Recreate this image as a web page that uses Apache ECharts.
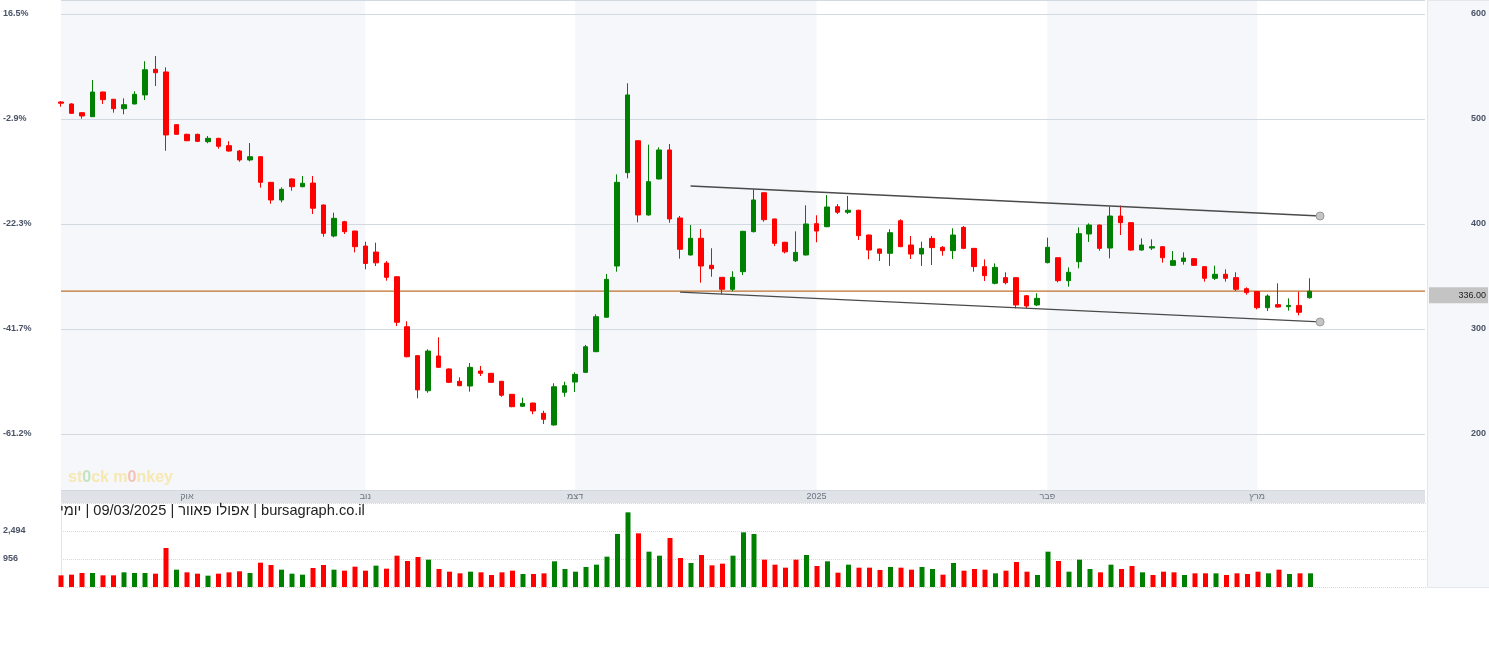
<!DOCTYPE html>
<html><head><meta charset="utf-8">
<script src="https://cdn.jsdelivr.net/npm/echarts@6/dist/echarts.min.js"></script>
<style>html,body{margin:0;padding:0;background:#fff}#c{width:1489px;height:648px}</style>
</head><body><div id="c"></div>
<script>
// ---- data (daily candles) ----
const opens = [516.2,514.3,506,502.2,525.7,518.8,509.8,514.3,522.9,547.3,
 544.8,494.6,485.4,485.4,478.4,481.6,474.6,469.5,461,464.1,
 439.7,422.9,442.9,435.5,439,418.1,388.6,402.2,393.3,379,
 373.3,362.8,349.8,302.2,274.6,241.2,274.3,261.9,250.2,245.7,
 260,257.8,250.2,237.8,226.4,229.5,219.7,208.6,239.7,249.5,
 258.7,278.4,311.2,360,448.9,479.3,408.6,442.9,470.5,405.7,
 370.5,386.4,360.7,349.2,337.8,354.6,392.7,429.8,404.8,382.6,
 365,370.5,400.3,397.4,416.5,411.2,413.1,389.5,376.2,372.1,
 403.1,380,371.4,386.3,377.8,374.6,396.8,376.8,359.4,343.5,
 348.9,348.9,331.7,322.9,363.2,367.9,346,364.1,390.5,399,
 377.1,407.6,401.3,375.2,377.1,378.4,360.6,364.4,367,359.4,
 348.3,352.1,348.9,338.4,335.6,320.3,323.2,321.3,322.5,329.8];
const closes = [515,505.4,502.9,525.7,518.4,509.8,513.6,523.5,546.9,544.1,
 484.8,485.4,479.3,478.7,481.6,474,469.5,461,464.1,439.7,
 422.9,433,435.5,438.8,415,391.1,405.4,392.7,378.4,362.4,
 363,349.2,306.4,273.6,242,279,263.5,249.2,246,263.5,
 257.8,249.2,236.9,226,229.2,221.9,214,245,246,256.8,
 283.1,311.7,347.3,439.7,522.9,408.6,440.3,470.5,404.8,375.9,
 386.4,360,357.4,337.8,349.2,393,422.9,404.1,381.6,373.5,
 373,400,393.3,416.2,411.2,413.1,388.9,375.2,372.1,391.7,
 378.4,371.4,376.8,377.5,374.6,389.5,376.8,359.4,350.8,358.7,
 344.1,322.9,321.9,329.2,377.8,346,354,390.8,399,376.8,
 407.6,401.3,375.2,380,378.4,367.9,365.1,367.6,360.6,348.3,
 352.1,348.3,337.8,334.6,320.3,331.4,320.9,322.5,315.9,336];
const lows = [511.7,504.8,500.3,502,514.3,506,504.5,514,518.1,531.4,
 469.8,485,479,478,476.9,471.7,469,459.3,459.7,434.6,
 419.3,420.6,431.7,435,409.5,387.9,387.3,390.5,373,356.9,
 360,346,302.9,273,234,239.3,263,248.5,245.5,240.3,
 255.2,249,235.5,225.5,226,218.8,209.5,208,235.5,240,
 258,278,311,354.6,443.5,401.6,408,442.5,401.2,367,
 370,344.1,349.8,333.3,335.9,351.4,392,402.2,379,372,
 363.8,370,382.6,397,409.5,409.5,384.8,366.4,364.8,360,
 378,366.7,360,360.9,369.8,366.7,376,354.6,345.7,342.5,
 342.5,319.7,319.7,321.9,362.5,344.4,340.3,357.8,382.9,374.6,
 367.3,389.5,374.6,374.6,375.2,363.2,360,361.3,360,345.1,
 346.7,345.1,336.2,332.7,318.7,317.1,320.3,317.5,313,328.9];
const highs = [517.1,515,506.5,537.1,526,519,519.7,526.4,555,560,
 549.2,495,486,486,483.8,482,478.8,470.5,477.1,464.5,
 440,434.9,443.5,445.7,445.7,418.5,410.8,403,393.5,383.1,
 382.2,364.7,350,307.3,275,280.7,292.1,262.5,254,267.6,
 264.8,258,250.5,238,234.6,229.8,222.2,248.3,249.8,258.7,
 284.8,314,352.4,447.3,534,479.5,475.5,473,476.2,407.6,
 399,395.2,376.9,349.5,355,393.5,433,430,405,383,
 393,417.8,408.3,427.6,419,426.7,413.5,390,376.5,395,
 404.5,388.6,383.2,388.6,379,395.9,398.1,377,366.3,362.5,
 354,349,332.4,334,387,368,358.7,396.8,400.6,399.5,
 416.5,417.5,401.5,386.3,385.4,378.5,374.3,373,367.5,359.5,
 360.3,356.8,354,339.7,336,333,343.5,329.2,335.6,348.3];
const volumes = [641,677,769,769,641,641,806,769,769,732,
 2142,952,806,732,623,732,806,861,769,1337,
 1208,952,732,677,1044,1208,952,897,1117,897,
 1172,1007,1721,1428,1648,1501,989,842,751,842,
 806,659,806,897,714,714,751,1410,989,842,
 1099,1227,1666,2911,4101,2948,1941,1721,2692,1593,
 1318,1758,1190,1282,1721,3003,2911,1501,1227,1062,
 1501,1758,1153,1410,787,1227,1062,1062,934,1099,
 1062,952,1099,989,677,1318,897,989,952,751,
 897,1373,842,659,1941,1428,842,1501,989,806,
 1227,989,1153,806,659,842,806,659,751,751,
 751,659,751,714,842,751,952,714,751,751];
const monthStartIdx = [12, 29, 49, 72, 94, 114];
const monthLabels = ['אוק', 'נוב', 'דצמ', '2025', 'פבר', 'מרץ'];
const shadedRanges = [[0, 29], [49, 72], [94, 114]];
const upperTrend = [[60, 436.2], [120, 407.6]];
const lowerTrend = [[59, 335.2], [120, 306.7]];
const volTickValues = [1538, 3076];
const volTickLabels = ['956', '2,494'];
const padDays = 11;
const titleText = 'אפולו פאוור | 09/03/2025 | יומי | bursagraph.co.il';

// ---- build ----
const N = opens.length;
const categories = Array.from({length: N + padDays}, (_, i) => String(i));
const candleData = opens.map((o, i) => [o, closes[i], lows[i], highs[i]]);
const UP = '#008000', DOWN = '#ff0000';
const volData = volumes.map((v, i) => {
  const up = i === 0 ? closes[0] >= opens[0] : closes[i] >= closes[i - 1];
  return {value: v, itemStyle: {color: up ? UP : DOWN}};
});
const pctBase = closes[0];
const lastClose = closes[N - 1];
const FONT = '"Liberation Sans", Arial, sans-serif';
const LBL = '#4a5366';
const PRICE_LINE = '#c0702e';

function trend(pts) {
  return {
    type: 'line', xAxisIndex: 0, yAxisIndex: 0, z: 6, silent: true,
    showSymbol: true, showAllSymbol: true,
    data: [{value: pts[0], symbol: 'none'}, {value: pts[1], symbol: 'circle', symbolSize: 8}],
    lineStyle: {color: '#4a4a4a', width: 1.3},
    itemStyle: {color: '#c4c4c4', borderColor: '#9a9a9a', borderWidth: 1},
    emphasis: {disabled: true}
  };
}

const chart = echarts.init(document.getElementById('c'), null, {renderer: 'canvas'});
chart.setOption({
  animation: false,
  backgroundColor: '#ffffff',
  textStyle: {fontFamily: FONT},
  title: {text: titleText, left: 60, top: 503, padding: 0,
    textStyle: {fontSize: 14.6, fontWeight: 'normal', color: '#222', fontFamily: FONT}},
  graphic: [
    {type: 'rect', z: -10, left: 1427, top: 0, silent: true,
     shape: {width: 62, height: 587}, style: {fill: '#f5f7fa', stroke: '#e3e6ea', lineWidth: 1}},
    {type: 'text', left: 68, top: 470, z: 50, silent: true,
     style: {text: '{y|st}{g|0}{y|ck m}{p|0}{y|nkey}',
       rich: {
         y: {fill: '#f6e8b0', fontSize: 16, fontWeight: 'bold', fontFamily: FONT},
         g: {fill: '#c4e4c0', fontSize: 16, fontWeight: 'bold', fontFamily: FONT},
         p: {fill: '#f4c2b6', fontSize: 16, fontWeight: 'bold', fontFamily: FONT}
       }}}
  ],
  grid: [
    {left: 61, right: 63, top: 0, height: 490},
    {left: 61, right: 63, top: 503, height: 84}
  ],
  xAxis: [
    {type: 'category', gridIndex: 0, data: categories, boundaryGap: false, offset: 6.5,
     axisLine: {show: true, lineStyle: {color: '#dfe3e8', width: 13, cap: 'butt'}},
     axisTick: {show: false}, splitLine: {show: false},
     axisLabel: {
       interval: (i) => monthStartIdx.includes(i),
       formatter: (v, i) => { const k = monthStartIdx.indexOf(i); return k >= 0 ? monthLabels[k] : ''; },
       margin: 0, verticalAlign: 'middle', fontSize: 9, color: '#6b7280', fontFamily: FONT
     }},
    {type: 'category', gridIndex: 1, data: categories, boundaryGap: false, show: false}
  ],
  yAxis: [
    {type: 'value', gridIndex: 0, position: 'right', min: 146.67, max: 613.33, splitNumber: 5, z: 2,
     axisLine: {show: false}, axisTick: {show: false},
     splitLine: {lineStyle: {color: '#d3d9e1', width: 1}},
     axisLabel: {showMinLabel: false, showMaxLabel: false, align: 'right', margin: 61,
       fontSize: 9, fontWeight: 'bold', color: LBL, fontFamily: FONT}},
    {type: 'value', gridIndex: 0, position: 'left', min: 146.67, max: 613.33, splitNumber: 5,
     axisLine: {show: true, lineStyle: {color: '#e1e4e8'}}, axisTick: {show: false},
     splitLine: {show: false},
     axisLabel: {showMinLabel: false, showMaxLabel: false, align: 'left', margin: 58,
       fontSize: 9, fontWeight: 'bold', color: LBL, fontFamily: FONT,
       formatter: (v) => ((v / pctBase - 1) * 100).toFixed(1) + '%'}},
    {type: 'value', gridIndex: 1, position: 'left', min: 0, max: 4614, interval: 1538,
     axisLine: {show: true, lineStyle: {color: '#e1e4e8'}}, axisTick: {show: false},
     splitLine: {lineStyle: {type: 'dotted', color: '#d3d9e1'}},
     axisLabel: {showMinLabel: false, showMaxLabel: false, align: 'left', margin: 58,
       fontSize: 9, fontWeight: 'bold', color: LBL, fontFamily: FONT,
       formatter: (v) => { const k = volTickValues.indexOf(v); return k >= 0 ? volTickLabels[k] : ''; }}}
  ],
  series: [
    {type: 'line', xAxisIndex: 0, yAxisIndex: 0, data: [], z: 1, silent: true,
     markArea: {silent: true, itemStyle: {color: '#f5f7fa'},
       data: shadedRanges.map(([a, b]) => [{xAxis: String(a)}, {xAxis: String(b)}])}},
    {type: 'line', name: 'last', xAxisIndex: 0, yAxisIndex: 0, z: 4, silent: true,
     data: [[0, lastClose], [categories.length - 1, lastClose]],
     symbol: 'none', showSymbol: false,
     lineStyle: {color: PRICE_LINE, width: 1.2, type: 'solid'},
     itemStyle: {color: PRICE_LINE},
     emphasis: {disabled: true},
     endLabel: {show: true, distance: 4, offset: [0, 4],
       formatter: () => '{a|' + lastClose.toFixed(2) + '}',
       backgroundColor: '#c4c4c4', padding: [3, 2, 3, 2],
       rich: {a: {width: 55, align: 'right', fontSize: 9, color: '#222', lineHeight: 10, fontFamily: FONT}}}},
    {type: 'candlestick', xAxisIndex: 0, yAxisIndex: 0, data: candleData, barWidth: 5, z: 5,
     itemStyle: {color: UP, color0: DOWN, borderColor: UP, borderColor0: DOWN, borderWidth: 1},
     emphasis: {disabled: true}},
    trend(upperTrend),
    trend(lowerTrend),
    {type: 'bar', xAxisIndex: 1, yAxisIndex: 2, data: volData, barWidth: 5, z: 3,
     emphasis: {disabled: true}}
  ]
});
</script></body></html>
